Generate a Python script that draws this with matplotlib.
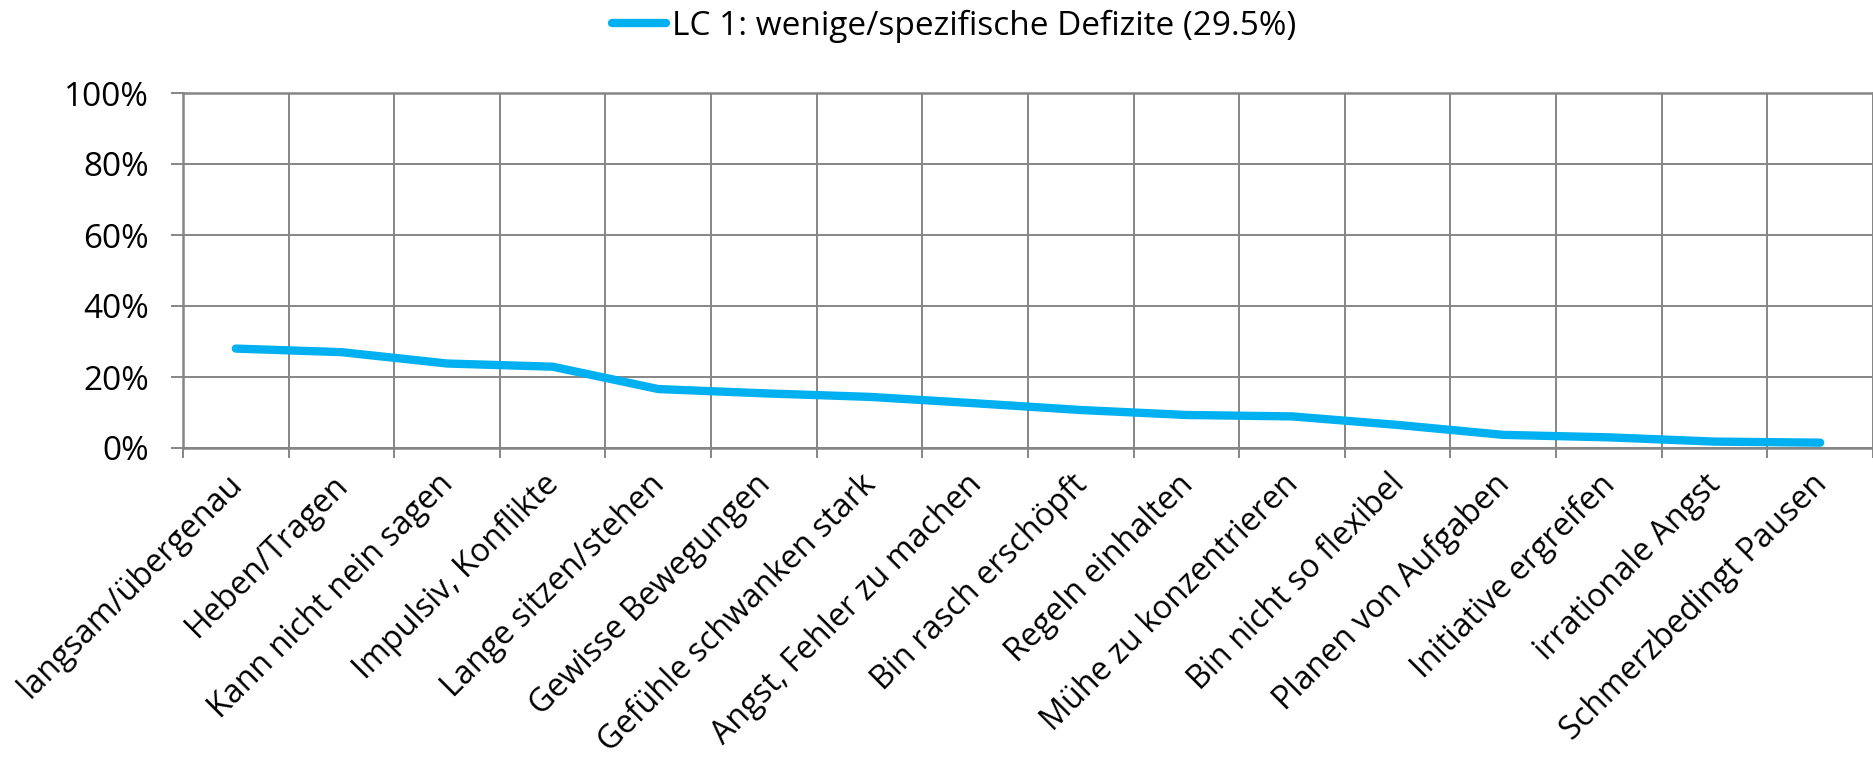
import matplotlib
matplotlib.use("Agg")
import matplotlib.pyplot as plt
import matplotlib.transforms as mtransforms
from matplotlib.ticker import FixedLocator, FuncFormatter

categories = [
    "langsam/übergenau", "Heben/Tragen", "Kann nicht nein sagen",
    "Impulsiv, Konflikte", "Lange sitzen/stehen", "Gewisse Bewegungen",
    "Gefühle schwanken stark", "Angst, Fehler zu machen", "Bin rasch erschöpft",
    "Regeln einhalten", "Mühe zu konzentrieren", "Bin nicht so flexibel",
    "Planen von Aufgaben", "Initiative ergreifen", "irrationale Angst",
    "Schmerzbedingt Pausen",
]
values = [28.0, 27.0, 23.8, 22.9, 16.6, 15.4, 14.4, 12.6,
          10.7, 9.3, 8.9, 6.5, 3.7, 3.0, 1.8, 1.5]
series_name = "LC 1: wenige/spezifische Defizite (29.5%)"
y_ticks = [0, 20, 40, 60, 80, 100]

plt.rcParams['font.family'] = ['Open Sans', 'DejaVu Sans']
FS = 24
FS_CAT = 23.2
GRID = "#868686"
LINE = "#00B0F0"

W, H = 1874, 763
fig = plt.figure(figsize=(W / 100, H / 100), dpi=100)
left_px, right_px, top_px, bottom_px = 183, 1873, 93, 448
ax = fig.add_axes([left_px / W, 1 - bottom_px / H,
                   (right_px - left_px) / W, (bottom_px - top_px) / H])

n = len(categories)
x = list(range(1, n + 1))
ax.plot(x, values, color=LINE, lw=6.0, solid_capstyle='round',
        solid_joinstyle='round', zorder=3, label=series_name)

ax.set_xlim(0.5, n + 0.5)
ax.set_ylim(0, 100)
ax.xaxis.set_major_locator(FixedLocator([i + 0.5 for i in range(0, n + 1)]))
ax.xaxis.set_major_formatter(FuncFormatter(lambda v, p: ""))
ax.set_yticks(y_ticks)
ax.yaxis.set_major_formatter(FuncFormatter(lambda v, p: f"{int(v)}%"))
ax.grid(True, color=GRID, lw=1.4, zorder=0)
ax.set_axisbelow(True)
for s in ax.spines.values():
    s.set_color(GRID)
    s.set_linewidth(1.8)
    s.set_clip_on(False)
ax.tick_params(axis='x', length=7.5, width=1.4, color=GRID, direction='out')
ax.tick_params(axis='y', length=8.6, width=1.4, color=GRID, direction='out',
               labelsize=FS, pad=16)

# rotated category labels
trans = mtransforms.blended_transform_factory(ax.transData, ax.transAxes)
off = mtransforms.ScaledTranslation(-10 / 100, -20 / 100, fig.dpi_scale_trans)
for xi, cat in zip(x, categories):
    ax.text(xi, 0, cat, transform=trans + off, rotation=45,
            rotation_mode='anchor', ha='right', va='top', fontsize=FS_CAT,
            color='black')

fig.legend(loc='center', bbox_to_anchor=(954 / W, 1 - 26 / H), frameon=False,
           fontsize=FS, handlelength=1.62, handletextpad=0.18,
           borderpad=0, borderaxespad=0)

fig.savefig("out.png", dpi=100)
